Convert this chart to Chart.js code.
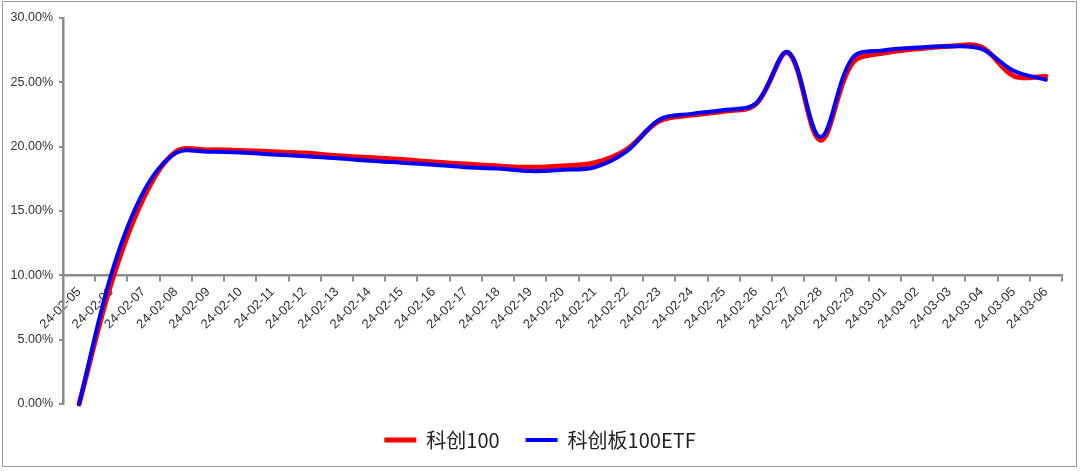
<!DOCTYPE html>
<html>
<head>
<meta charset="utf-8">
<script src="https://cdn.jsdelivr.net/npm/chart.js@4.4.1/dist/chart.umd.min.js"></script>
<style>
  html, body { margin: 0; padding: 0; background: #fff; }
  #wrap { position: relative; width: 1080px; height: 471px; }
  #frame { position: absolute; left: 2px; top: 1px; width: 1073px; height: 464px; border: 1px solid #9a9a9a; pointer-events: none; }
  canvas { position: absolute; left: 0; top: 0; }
</style>
</head>
<body>
<div id="wrap">
  <canvas id="c" width="1080" height="471"></canvas>
  <div id="frame"></div>
</div>
<script>
const categories = [
  '24-02-05','24-02-06','24-02-07','24-02-08','24-02-09','24-02-10','24-02-11','24-02-12',
  '24-02-13','24-02-14','24-02-15','24-02-16','24-02-17','24-02-18','24-02-19','24-02-20',
  '24-02-21','24-02-22','24-02-23','24-02-24','24-02-25','24-02-26','24-02-27','24-02-28',
  '24-02-29','24-03-01','24-03-02','24-03-03','24-03-04','24-03-05','24-03-06'
];
const seriesNames = ['科创100', '科创板100ETF'];
const kechuang100 = [0, 9.4, 16.0, 19.6, 19.75, 19.7, 19.6, 19.5, 19.3, 19.15, 19.0, 18.8, 18.65, 18.5, 18.4, 18.5,
  18.75, 19.8, 22.0, 22.45, 22.75, 23.3, 27.3, 20.5, 26.5, 27.3, 27.6, 27.8, 27.75, 25.5, 25.45];
const kechuangETF = [0, 10.1, 16.5, 19.5, 19.6, 19.55, 19.4, 19.25, 19.1, 18.9, 18.75, 18.6, 18.4, 18.3, 18.1, 18.2,
  18.4, 19.65, 22.1, 22.55, 22.85, 23.35, 27.35, 20.75, 26.9, 27.5, 27.7, 27.8, 27.6, 25.9, 25.2];
const yTicks = [0, 5, 10, 15, 20, 25, 30];

const axisColor = '#8c8c8c';
const textColor = '#333333';

new Chart(document.getElementById('c'), {
  type: 'line',
  data: {
    labels: categories,
    datasets: [
      { label: seriesNames[0], data: kechuang100, borderColor: '#ff0000', backgroundColor: '#ff0000',
        borderWidth: 5, pointRadius: 0, tension: 0.35, fill: false, clip: false, order: 1,
        borderCapStyle: 'round', borderJoinStyle: 'round' },
      { label: seriesNames[1], data: kechuangETF, borderColor: '#0000ff', backgroundColor: '#0000ff',
        borderWidth: 4, pointRadius: 0, tension: 0.35, fill: false, clip: false, order: 0,
        borderCapStyle: 'round', borderJoinStyle: 'round' }
    ]
  },
  options: {
    responsive: false,
    animation: false,
    layout: { padding: { left: 0, right: 0, top: 18, bottom: 11 } },
    plugins: {
      tooltip: { enabled: false },
      legend: {
        position: 'bottom',
        labels: {
          usePointStyle: true,
          pointStyle: 'line',
          pointStyleWidth: 32,
          padding: 26,
          color: '#222',
          font: { family: '"Noto Sans CJK SC", "Liberation Sans", sans-serif', size: 20 },
          sort: (a, b) => a.datasetIndex - b.datasetIndex
        }
      }
    },
    scales: {
      x: {
        type: 'category',
        offset: true,
        position: { y: 10 },
        border: { display: true, color: axisColor, width: 2.5 },
        grid: { offset: true, drawOnChartArea: false, drawTicks: true, tickLength: 5, color: axisColor, lineWidth: 2 },
        ticks: {
          autoSkip: false, minRotation: 45, maxRotation: 45, padding: 4,
          color: textColor, font: { family: '"Liberation Sans", Arial, sans-serif', size: 13 }
        }
      },
      y: {
        min: 0, max: 30,
        afterFit: (s) => { s.width = 63; },
        afterBuildTicks: (s) => { s.ticks = yTicks.map(v => ({ value: v })); },
        border: { display: true, color: axisColor, width: 2.5 },
        grid: { drawOnChartArea: false, drawTicks: true, tickLength: 4, color: axisColor, lineWidth: 2 },
        ticks: {
          padding: 6,
          color: textColor, font: { family: '"Liberation Sans", Arial, sans-serif', size: 12.5 },
          callback: (v) => Number(v).toFixed(2) + '%'
        }
      },
      spacer: {
        type: 'linear',
        position: 'right',
        display: true,
        afterFit: (s) => { s.width = 18; },
        border: { display: false },
        grid: { display: false },
        ticks: { display: false }
      }
    }
  }
});
</script>
</body>
</html>
